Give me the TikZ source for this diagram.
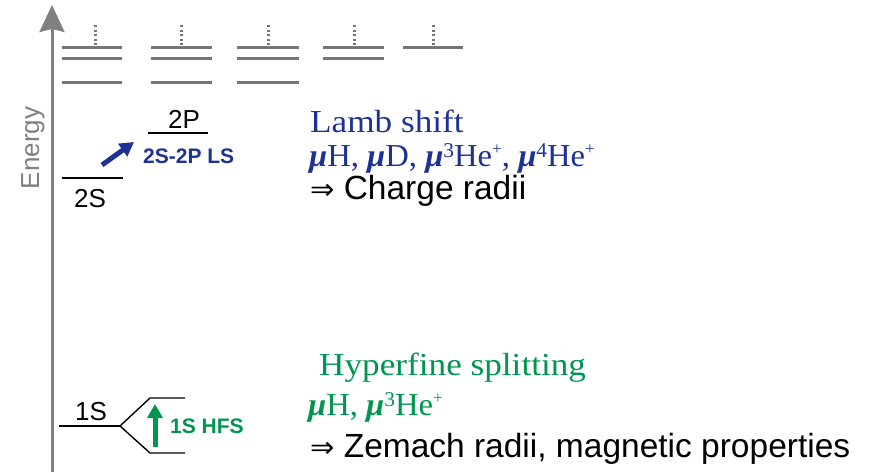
\documentclass[tikz,border=0pt]{standalone}
\usepackage{fontspec}
\setmainfont{Liberation Sans}
\newfontfamily\serifx[FakeStretch=1.1]{Liberation Serif}
\newfontfamily\serifn[FakeStretch=1.02]{Liberation Serif}
\newfontfamily\arrowfont{DejaVu Sans}
\usetikzlibrary{arrows.meta}
\definecolor{lsblue}{RGB}{30,50,150}
\definecolor{hfsgreen}{RGB}{0,150,80}
\definecolor{axgray}{RGB}{128,128,128}
\definecolor{lvgray}{RGB}{118,118,118}
\newcommand\supx[1]{\raisebox{9pt}{\fontsize{21}{21}\selectfont #1}}
\newcommand\supp{\raisebox{12pt}{\fontsize{17}{17}\selectfont +}}
\newcommand\mub{\textbf{\textit{μ}}}
\tikzset{
  txt/.style={inner sep=0pt, anchor=base west},
  rydberg/.style={draw=lvgray, line width=3pt},
  dots/.style={draw=lvgray, line width=3pt, dash pattern=on 2pt off 2.6pt},
  level/.style={draw=black, line width=1.6pt},
  split/.style={draw=black, line width=1.4pt},
  serifbig/.style={txt, font=\serifx\fontsize{32}{32}\selectfont},
  serifnar/.style={txt, font=\serifn\fontsize{32}{32}\selectfont},
  sansbig/.style={txt, font=\fontsize{33.5}{33.5}\selectfont},
  smalllab/.style={inner sep=0pt, anchor=base west, font=\bfseries\fontsize{21}{21}\selectfont},
  statelab/.style={inner sep=0pt, anchor=base, font=\fontsize{26}{26}\selectfont}
}
\newcommand\imp{{\arrowfont\fontsize{29}{29}\selectfont ⇒}}
\begin{document}
\begin{tikzpicture}[x=1pt,y=-1pt]
\useasboundingbox (0,0) rectangle (871,472);
% energy axis
\coordinate (axb) at (52,472);
\coordinate (axt) at (52,5);
\draw[axgray, line width=3pt, -{Stealth[length=27pt,width=25pt,inset=3pt]}] (axb) -- (axt);
\node[rotate=90, inner sep=0pt, text=axgray, font=\fontsize{26}{26}\selectfont] (energy) at (33,148) {Energy};
% high levels
\foreach \xa/\xb in {62/122,151/212,237/299,323/384,403/463} {
  \draw[rydberg] (\xa,47.7) -- (\xb,47.7);
}
\foreach \xa/\xb in {62/122,151/212,237/299,323/384} {
  \draw[rydberg] (\xa,58.3) -- (\xb,58.3);
}
\foreach \xa/\xb in {62/122,151/212,237/299} {
  \draw[rydberg] (\xa,82) -- (\xb,82);
}
\foreach \xx in {95,181,268,354,433} {
  \draw[dots] (\xx,25) -- (\xx,45);
}
% n=2 levels
\draw[level] (62,178) -- (123,178);
\node[statelab] (s2) at (90,207) {2S};
\draw[level] (148,133) -- (208,133);
\node[statelab] (p2) at (184,128) {2P};
\coordinate (lsa) at (102,165);
\coordinate (lsb) at (134,142);
\draw[lsblue, line width=5pt, -{Triangle[length=14pt,width=15pt]}] (lsa) -- (lsb);
\node[smalllab, text=lsblue] (lslab) at (143,163) {2S-2P LS};
% 1S
\coordinate (s1r) at (120,426);
\draw[level] (59,426) -- (s1r);
\draw[split] (s1r) -- (150,398) -- (185,398);
\draw[split] (s1r) -- (150,453) -- (185,453);
\node[statelab] (s1) at (91,420) {1S};
\coordinate (hfa) at (155,447);
\coordinate (hfb) at (155,404);
\draw[hfsgreen, line width=5pt, -{Triangle[length=14pt,width=15pt]}] (hfa) -- (hfb);
\node[smalllab, text=hfsgreen] (hflab) at (170,433) {1S HFS};
% right texts
\node[serifbig, text=lsblue] (lamb) at (310,132) {Lamb shift};
\node[serifnar, text=lsblue] (lamb2) at (309,166) {\mub H, \mub D, \mub\supx{3}He\supp, \mub\supx{4}He\supp};
\node[sansbig] (charge) at (310,199) {\imp{} Charge radii};
\node[serifbig, text=hfsgreen] (hfs) at (319,375) {Hyperfine splitting};
\node[serifnar, text=hfsgreen] (hfs2) at (308,415) {\mub H, \mub\supx{3}He\supp};
\node[sansbig] (zemach) at (310,457) {\imp{} Zemach radii, magnetic properties};
\end{tikzpicture}
\end{document}
